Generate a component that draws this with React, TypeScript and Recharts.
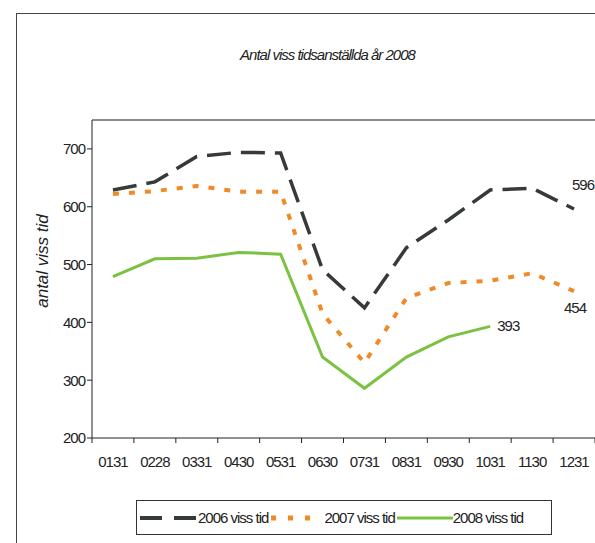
import { LineChart, Line, XAxis, YAxis, Legend, ReferenceLine, LabelList } from "recharts";

const months = ["0131", "0228", "0331", "0430", "0531", "0630", "0731", "0831", "0930", "1031", "1130", "1231"];
const viss2006 = [629, 643, 687, 694, 693, 491, 425, 529, 577, 629, 632, 596];
const viss2007 = [622, 627, 636, 626, 626, 415, 330, 442, 468, 472, 485, 454];
const viss2008 = [479, 510, 511, 521, 518, 340, 286, 340, 375, 393, null, null];
const yTicks = [200, 300, 400, 500, 600, 700];

const data = months.map((m, i) => ({ m, a: viss2006[i], b: viss2007[i], c: viss2008[i] }));

const FONT = "'Liberation Sans', Arial, sans-serif";
const HALF_BAND = (595 - 92) / 12 / 2;

const C2006 = "#373b37";
const C2007 = "#f08a26";
const C2008 = "#7cc242";

function XTick(props: any) {
  const { x, y, payload, index } = props;
  return (
    <g>
      <line x1={x - HALF_BAND} x2={x - HALF_BAND} y1={y} y2={y + 5} stroke="#222" />
      {index === months.length - 1 && (
        <line x1={x + HALF_BAND} x2={x + HALF_BAND} y1={y} y2={y + 5} stroke="#222" />
      )}
      <text x={x} y={y + 29} textAnchor="middle" fontSize={15} letterSpacing={-1} fill="#222" fontFamily={FONT}>
        {payload.value}
      </text>
    </g>
  );
}

// value label only on the last drawn point of a series
function lastLabel(values: (number | null)[], dx: number, dy: number, anchor: string) {
  const last = values.reduce((acc: number, v, i) => (v != null ? i : acc), -1);
  return (p: any) => {
    if (p.index !== last) return null;
    return (
      <text x={p.x + dx} y={p.y + dy} textAnchor={anchor} fontSize={15} letterSpacing={-1} fill="#222" fontFamily={FONT}>
        {values[last]}
      </text>
    );
  };
}

function LegendBox() {
  const txt = { fontSize: 15, letterSpacing: -1, color: "#222", fontFamily: FONT, whiteSpace: "nowrap" as const };
  return (
    <div style={{ border: "1px solid #333", height: 35, width: 416, display: "flex", alignItems: "center", boxSizing: "border-box" }}>
      <svg width={58} height={10} style={{ marginLeft: 3 }}>
        <line x1={0} x2={58} y1={5} y2={5} stroke={C2006} strokeWidth={4} strokeDasharray="22 12" />
      </svg>
      <span style={txt}>2006 viss tid</span>
      <svg width={54} height={10}>
        <line x1={3} x2={54} y1={5} y2={5} stroke={C2007} strokeWidth={5} strokeDasharray="5 12" />
      </svg>
      <span style={{ ...txt, marginLeft: 2 }}>2007 viss tid</span>
      <svg width={56} height={10} style={{ marginLeft: 2 }}>
        <line x1={0} x2={56} y1={5} y2={5} stroke={C2008} strokeWidth={3} />
      </svg>
      <span style={txt}>2008 viss tid</span>
    </div>
  );
}

export default function App() {
  return (
    <div style={{ position: "relative", width: 595, height: 543, background: "#fff", overflow: "hidden" }}>
      <style>{"body{margin:0}"}</style>
      <div style={{ position: "absolute", left: 16, top: 13, width: 600, height: 560, borderTop: "1.5px solid #444", borderLeft: "1.5px solid #444" }} />
      <div style={{ position: "absolute", top: 46, left: 0, width: 655, textAlign: "center", fontFamily: FONT, fontStyle: "italic", fontSize: 15, letterSpacing: -1, color: "#222" }}>
        Antal viss tidsanställda år 2008
      </div>
      <LineChart width={595} height={543} data={data} margin={{ top: 120, right: 0, bottom: 75, left: 0 }} style={{ position: "absolute", top: 0, left: 0 }}>
        <XAxis dataKey="m" scale="band" height={30} tickSize={0} tickMargin={0} tickLine={false} stroke="#222" interval={0} tick={<XTick />} />
        <YAxis
          width={92}
          domain={[200, 750]}
          ticks={yTicks}
          allowDataOverflow
          stroke="#222"
          tickSize={5}
          tick={{ fontSize: 15, letterSpacing: -1, fill: "#222", fontFamily: FONT }}
          label={(p: any) => {
            const vb = p.viewBox;
            const cx = 42;
            const cy = vb.y + vb.height / 2 - 18;
            return (
              <text x={cx} y={cy} transform={`rotate(-90 ${cx} ${cy})`} textAnchor="middle" dominantBaseline="central" fontSize={17} fontStyle="italic" fill="#222" fontFamily={FONT}>
                antal viss tid
              </text>
            );
          }}
        />
        <ReferenceLine y={750} stroke="#666" strokeWidth={1.5} />
        <Line dataKey="a" stroke={C2006} strokeWidth={3.5} strokeDasharray="24 10" dot={false} isAnimationActive={false}>
          <LabelList content={lastLabel(viss2006, -2, -19, "start")} />
        </Line>
        <Line dataKey="b" stroke={C2007} strokeWidth={4} strokeDasharray="6 10" dot={false} isAnimationActive={false}>
          <LabelList content={lastLabel(viss2007, -10, 22, "start")} />
        </Line>
        <Line dataKey="c" stroke={C2008} strokeWidth={3} dot={false} isAnimationActive={false}>
          <LabelList content={lastLabel(viss2008, 7, 5, "start")} />
        </Line>
        <Legend
          layout="horizontal"
          verticalAlign="middle"
          align="center"
          wrapperStyle={{ top: 500, left: 136, width: 418 }}
          content={() => <LegendBox />}
        />
      </LineChart>
    </div>
  );
}
